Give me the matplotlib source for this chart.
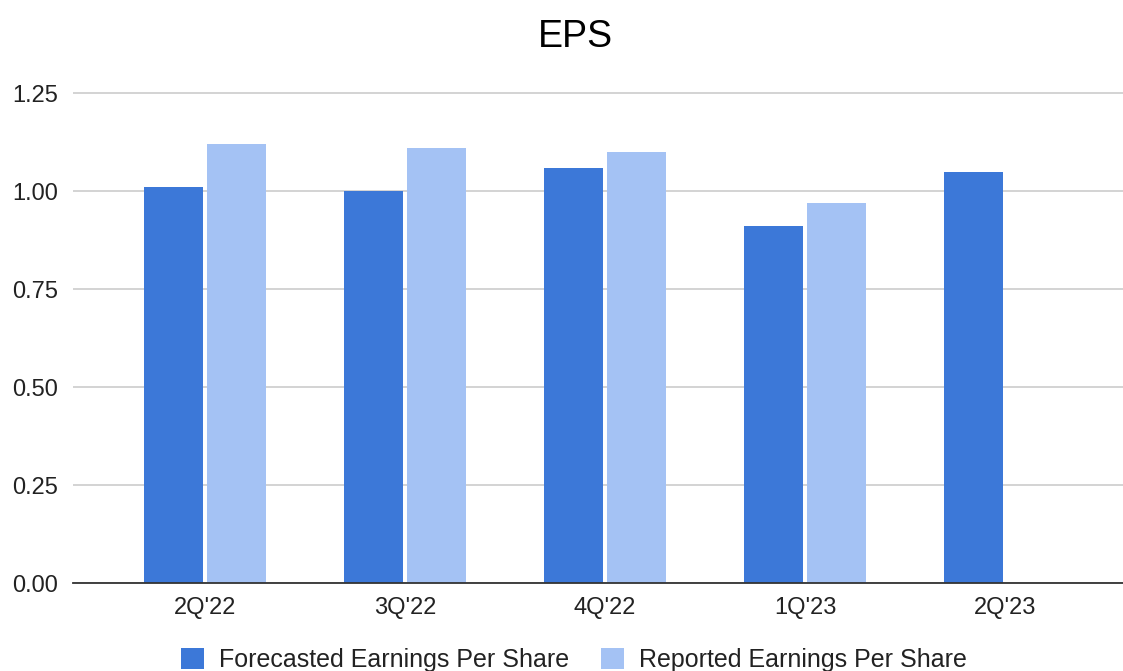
import numpy as np
import matplotlib.pyplot as plt

quarters = ["2Q'22", "3Q'22", "4Q'22", "1Q'23", "2Q'23"]
forecasted = [1.01, 1.00, 1.06, 0.91, 1.05]
reported = [1.12, 1.11, 1.10, 0.97, np.nan]

plt.rcParams["font.family"] = ["Liberation Sans", "DejaVu Sans"]

fig = plt.figure(figsize=(11.23, 6.71), dpi=100)
ax = fig.add_axes([0.065, 0.131, 0.935, 0.7594])

x = np.arange(len(quarters))
w = 0.295
ax.bar(x - 0.158, forecasted, width=w, color="#3c78d8", label="Forecasted Earnings Per Share", zorder=3)
ax.bar(x + 0.158, reported, width=w, color="#a4c2f4", label="Reported Earnings Per Share", zorder=3)

ax.set_xlim(-0.66, 4.59)
ax.set_ylim(0, 1.3)
ax.set_yticks([0, 0.25, 0.5, 0.75, 1.0, 1.25])
ax.set_yticklabels(["0.00", "0.25", "0.50", "0.75", "1.00", "1.25"])
ax.set_xticks(x)
ax.set_xticklabels(quarters)
ax.tick_params(axis="both", length=0, labelsize=17, colors="#222222")
ax.tick_params(axis="y", pad=10.5)
ax.tick_params(axis="x", pad=10)
ax.grid(axis="y", color="#cccccc", linewidth=1.2, zorder=0)
for s in ["top", "right", "left"]:
    ax.spines[s].set_visible(False)
ax.spines["bottom"].set_color("#333333")
ax.spines["bottom"].set_linewidth(1.3)
ax.spines["bottom"].set_zorder(4)

fig.text(0.512, 0.930, "EPS", ha="center", va="baseline", fontsize=27, color="#000000")

fig.legend(loc="center", bbox_to_anchor=(0.511, 0.016), ncol=2, frameon=False,
           fontsize=18, handlelength=0.92, handleheight=0.92, columnspacing=1.25,
           handletextpad=0.62, labelcolor="#222222")

fig.savefig("out.png", dpi=100)
